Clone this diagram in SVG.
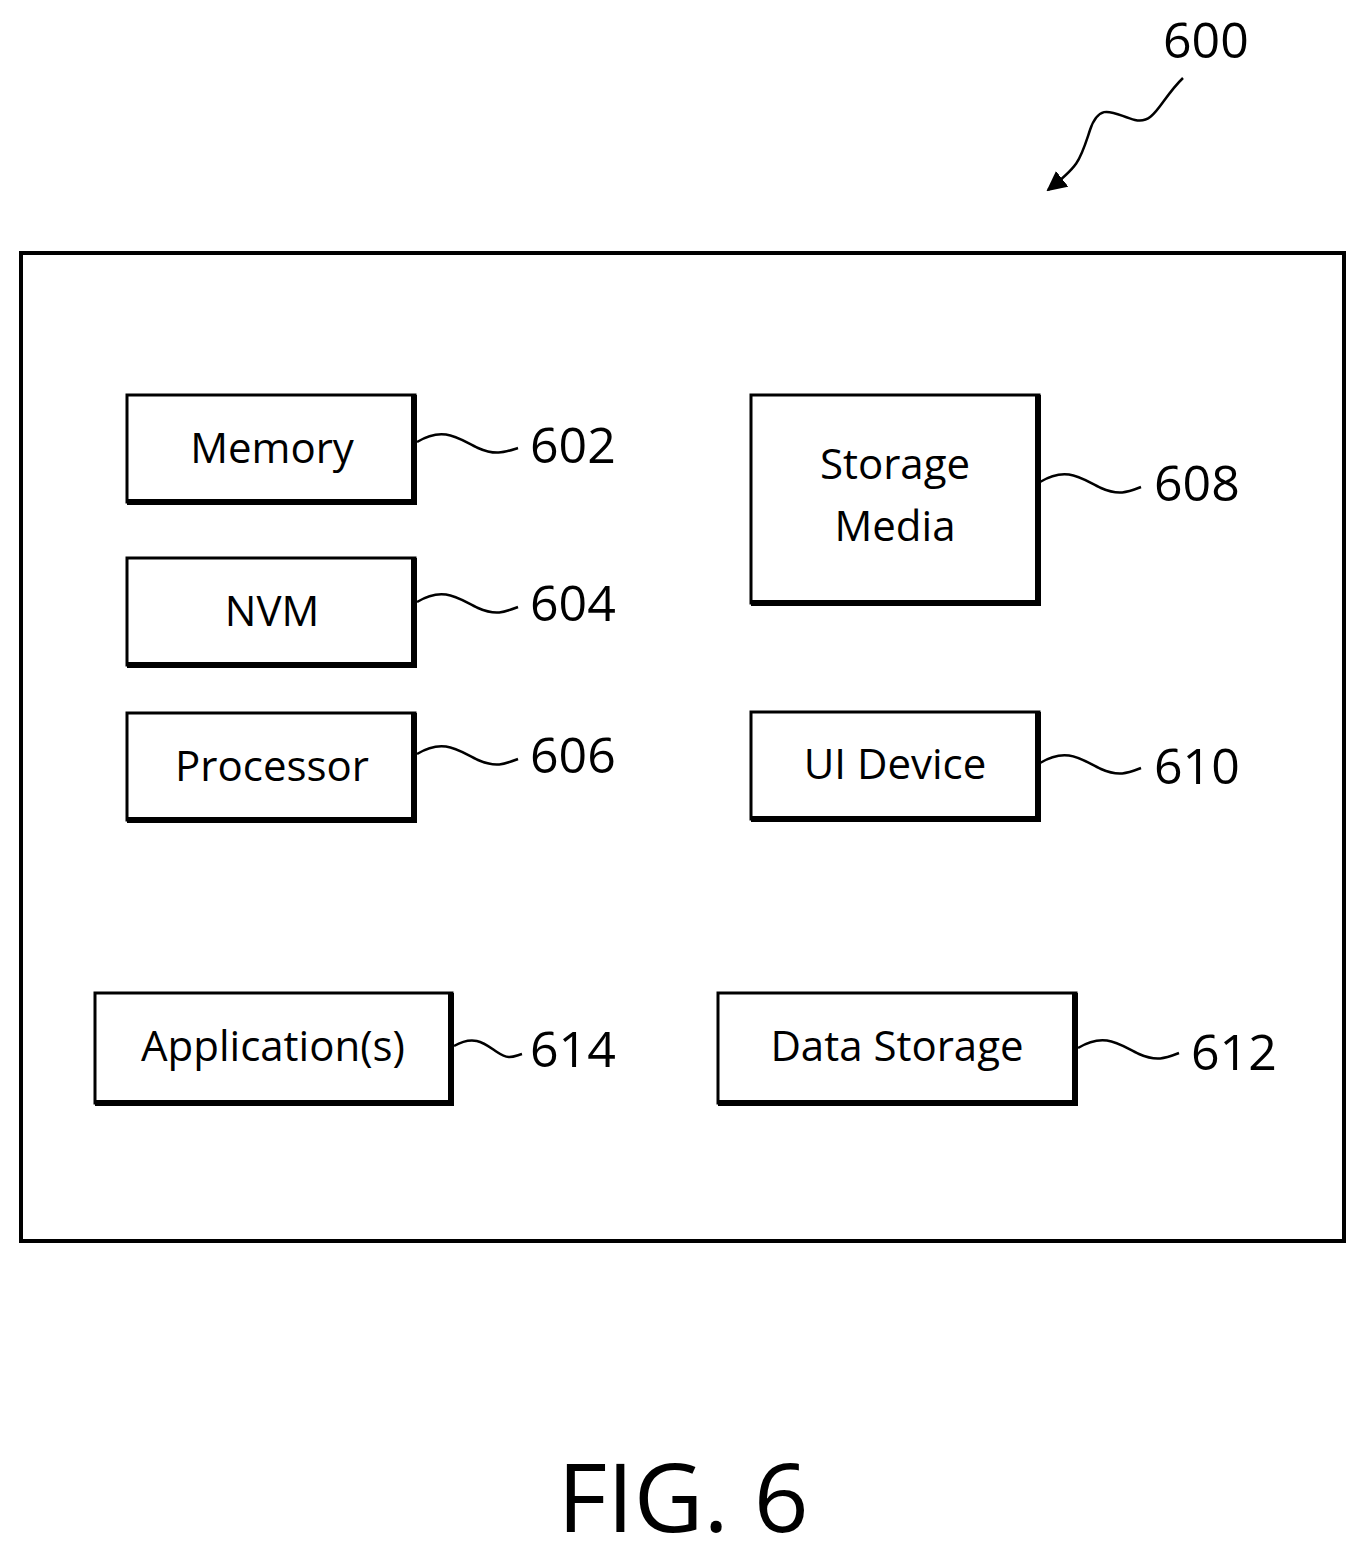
<svg xmlns="http://www.w3.org/2000/svg" width="1366" height="1558" viewBox="0 0 1366 1558">
<style>
.b{fill:#fff;stroke:#000;stroke-width:3}
.s{fill:none;stroke:#000;stroke-width:6}
.t{font-family:"Open Sans","Liberation Sans",sans-serif;font-size:42px;text-anchor:middle}
.n{font-family:"Open Sans","Liberation Sans",sans-serif;font-size:50px}
.l{fill:none;stroke:#000;stroke-width:2.5}
</style>
<defs><marker id="a" viewBox="0 0 10 10" refX="9" refY="5" markerWidth="8" markerHeight="8" orient="auto"><path d="M0,0L10,5L0,10z"/></marker></defs>
<rect x="21" y="253" width="1323" height="988" fill="#fff" stroke="#000" stroke-width="4"/>
<g id="memory"><rect class="b" x="127" y="395" width="288" height="107"/><path class="s" d="M414,395V502H127"/><text class="t" x="272" y="463">Memory</text></g>
<g id="nvm"><rect class="b" x="127" y="558" width="288" height="107"/><path class="s" d="M414,558V665H127"/><text class="t" x="272" y="626">NVM</text></g>
<g id="processor"><rect class="b" x="127" y="713" width="288" height="107"/><path class="s" d="M414,713V820H127"/><text class="t" x="272" y="781">Processor</text></g>
<g id="storage"><rect class="b" x="751" y="395" width="288" height="208"/><path class="s" d="M1038,395V603H751"/><text class="t" x="895" y="479">Storage</text><text class="t" x="895" y="541">Media</text></g>
<g id="ui"><rect class="b" x="751" y="712" width="288" height="107"/><path class="s" d="M1038,712V819H751"/><text class="t" x="895" y="779">UI Device</text></g>
<g id="apps"><rect class="b" x="95" y="993" width="357" height="110"/><path class="s" d="M451,993V1103H95"/><text class="t" x="273" y="1061">Application(s)</text></g>
<g id="data"><rect class="b" x="718" y="993" width="358" height="110"/><path class="s" d="M1075,993V1103H718"/><text class="t" x="897" y="1061">Data Storage</text></g>
<g id="connectors">
<path class="l" d="M417,442C445,425 460,440 478,448S505,452 518,448"/>
<path class="l" d="M417,602C445,585 460,600 478,608S505,612 518,607"/>
<path class="l" d="M417,754C445,737 460,752 478,760S505,764 518,759"/>
<path class="l" d="M1040,482C1068,465 1083,480 1101,488S1128,492 1141,487"/>
<path class="l" d="M1040,763C1068,746 1083,761 1101,769S1128,773 1141,768"/>
<path class="l" d="M454,1046C475,1034 485,1044 497,1052S512,1057 522,1054"/>
<path class="l" d="M1078,1048C1106,1031 1121,1046 1139,1054S1166,1058 1179,1053"/>
<path class="l" marker-end="url(#a)" d="M1183,78C1160,100 1155,125 1135,120S1100,100 1090,130S1080,165 1048,190"/>
</g>
<g id="labels">
<text class="n" x="530" y="463">602</text>
<text class="n" x="530" y="621">604</text>
<text class="n" x="530" y="773">606</text>
<text class="n" x="1154" y="501">608</text>
<text class="n" x="1154" y="784">610</text>
<text class="n" x="530" y="1067">614</text>
<text class="n" x="1191" y="1070">612</text>
<text class="n" x="1163" y="58">600</text>
<text x="683" y="1532" font-family="Open Sans,Liberation Sans,sans-serif" font-size="96" text-anchor="middle">FIG. 6</text>
</g>
</svg>
